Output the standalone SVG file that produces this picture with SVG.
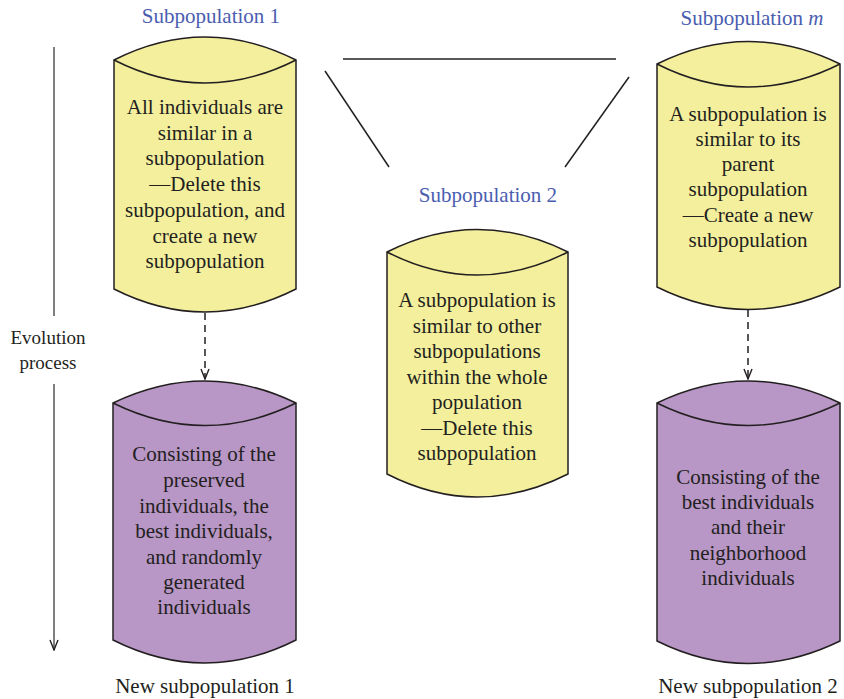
<svg xmlns="http://www.w3.org/2000/svg" width="844" height="699" viewBox="0 0 844 699">
<style>
.cy{fill:#f3ef9d;stroke:#231f20;stroke-width:1.5}
.pu{fill:#b896c6;stroke:#231f20;stroke-width:1.5}
.in{fill:none;stroke:#231f20;stroke-width:1.5}
.t{font-family:"Liberation Serif",serif;font-size:21px;fill:#231f20;text-anchor:middle}
.e{font-family:"Liberation Serif",serif;font-size:19px;fill:#231f20;text-anchor:middle}
.b{font-family:"Liberation Serif",serif;font-size:21px;fill:#4a5db0;text-anchor:middle}
.ln{stroke:#231f20;stroke-width:1.5;fill:none}
.da{stroke:#231f20;stroke-width:1.5;fill:none;stroke-dasharray:7,5}
</style>
<defs>
<marker id="ah" viewBox="0 0 12 10" refX="11" refY="5" markerWidth="12" markerHeight="10" markerUnits="userSpaceOnUse" orient="auto">
<path d="M1,1 L11,5 L1,9" fill="none" stroke="#231f20" stroke-width="1.4"/>
</marker>
</defs>
<rect width="844" height="699" fill="#ffffff"/>
<g id="connectors">
<line class="ln" x1="343" y1="59" x2="616" y2="59"/>
<line class="ln" x1="325" y1="71" x2="389" y2="167"/>
<line class="ln" x1="629" y1="77" x2="565" y2="167"/>
<line class="da" x1="205" y1="313" x2="205" y2="379" marker-end="url(#ah)"/>
<line class="da" x1="748" y1="310" x2="748" y2="379" marker-end="url(#ah)"/>
<line class="ln" x1="54" y1="47" x2="54" y2="316" style="stroke:#555"/>
<line class="ln" x1="54" y1="384" x2="54" y2="650" style="stroke:#555" marker-end="url(#ah)"/>
</g>
<g id="evolution">
<text class="e" x="48" y="344">Evolution</text>
<text class="e" x="48" y="369">process</text>
</g>
<g id="sub1">
<text class="b" x="211" y="23">Subpopulation 1</text>
<path class="cy" d="M114,60 Q205,14 296,60 L296,289 Q205,335 114,289 Z"/>
<path class="in" d="M114,60 Q205,106 296,60"/>
<text class="t" x="205" y="114">All individuals are</text>
<text class="t" x="205" y="140">similar in a</text>
<text class="t" x="205" y="165">subpopulation</text>
<text class="t" x="205" y="191">—Delete this</text>
<text class="t" x="205" y="217">subpopulation, and</text>
<text class="t" x="205" y="243">create a new</text>
<text class="t" x="205" y="268">subpopulation</text>
</g>
<g id="sub2">
<text class="b" x="488" y="202">Subpopulation 2</text>
<path class="cy" d="M387,252 Q477,207 568,252 L568,474 Q477,520 387,474 Z"/>
<path class="in" d="M387,252 Q477,298 568,252"/>
<text class="t" x="477" y="307">A subpopulation is</text>
<text class="t" x="477" y="333">similar to other</text>
<text class="t" x="477" y="358">subpopulations</text>
<text class="t" x="477" y="384">within the whole</text>
<text class="t" x="477" y="409">population</text>
<text class="t" x="477" y="435">—Delete this</text>
<text class="t" x="477" y="460">subpopulation</text>
</g>
<g id="subm">
<text class="b" x="752" y="25">Subpopulation <tspan font-style="italic">m</tspan></text>
<path class="cy" d="M657,64 Q748,19 840,64 L840,287 Q748,332 657,287 Z"/>
<path class="in" d="M657,64 Q748,110 840,64"/>
<text class="t" x="748" y="121">A subpopulation is</text>
<text class="t" x="748" y="146">similar to its</text>
<text class="t" x="748" y="171">parent</text>
<text class="t" x="748" y="196">subpopulation</text>
<text class="t" x="748" y="222">—Create a new</text>
<text class="t" x="748" y="247">subpopulation</text>
</g>
<g id="new1">
<path class="pu" d="M113,403 Q205,359 296,403 L296,640 Q205,686 113,640 Z"/>
<path class="in" d="M113,403 Q205,448 296,403"/>
<text class="t" x="204" y="461">Consisting of the</text>
<text class="t" x="204" y="487">preserved</text>
<text class="t" x="204" y="513">individuals, the</text>
<text class="t" x="204" y="538">best individuals,</text>
<text class="t" x="204" y="564">and randomly</text>
<text class="t" x="204" y="589">generated</text>
<text class="t" x="204" y="614">individuals</text>
<text class="t" x="205" y="693">New subpopulation 1</text>
</g>
<g id="new2">
<path class="pu" d="M657,403 Q748,359 840,403 L840,641 Q748,686 657,641 Z"/>
<path class="in" d="M657,403 Q748,448 840,403"/>
<text class="t" x="748" y="484">Consisting of the</text>
<text class="t" x="748" y="509">best individuals</text>
<text class="t" x="748" y="534">and their</text>
<text class="t" x="748" y="560">neighborhood</text>
<text class="t" x="748" y="585">individuals</text>
<text class="t" x="748" y="693">New subpopulation 2</text>
</g>
</svg>
